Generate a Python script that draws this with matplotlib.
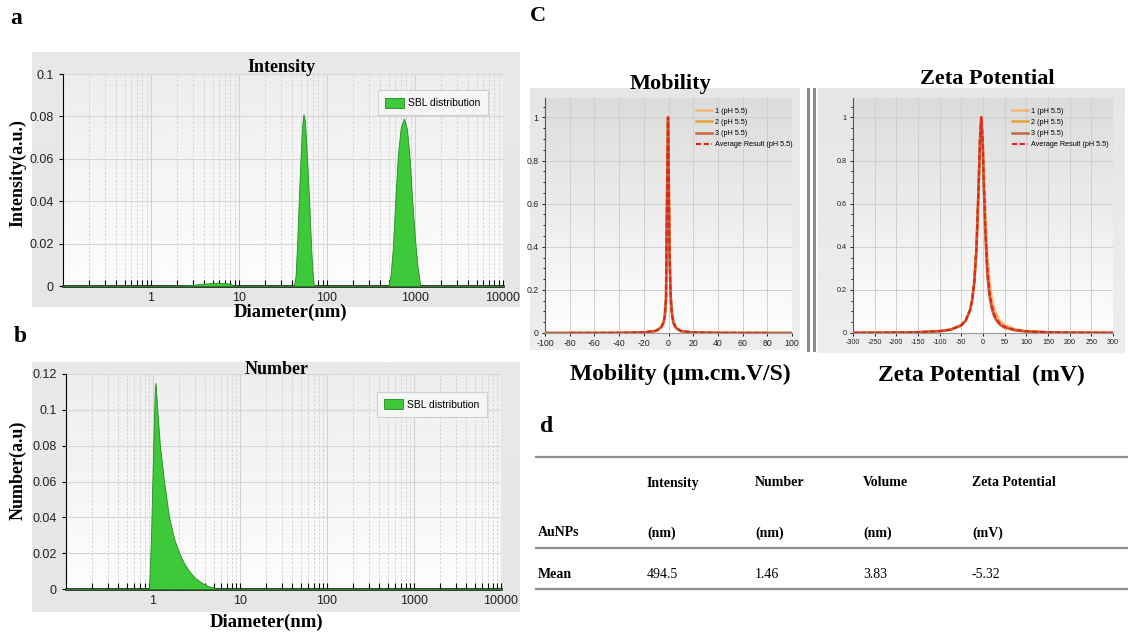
import numpy as np
import matplotlib
matplotlib.use("Agg")
import matplotlib.pyplot as plt
from matplotlib.ticker import LogLocator, NullFormatter, AutoMinorLocator

plt.rcParams['font.family'] = ['Liberation Sans', 'DejaVu Sans']
plt.rcParams['axes.unicode_minus'] = False
SERIF = 'Liberation Serif'

# ---- data ----
# a: intensity distribution
int_d = [0.1, 2.0, 2.9, 3.5, 4.2, 5.0, 5.8, 6.8, 8.0, 9.0, 20.0, 42, 44, 46, 48, 50, 52, 54, 56, 58, 60, 63, 66, 69, 71,
         300, 500, 530, 560, 600, 640, 690, 750, 810, 870, 930, 1000, 1070, 1150, 10000]
int_v = [0, 0, 0.0004, 0.0009, 0.0012, 0.0014, 0.0015, 0.0014, 0.0010, 0, 0, 0, 0.005, 0.022, 0.042, 0.060, 0.075, 0.081,
         0.078, 0.068, 0.056, 0.038, 0.018, 0.004, 0, 0, 0, 0.006, 0.018, 0.042, 0.062, 0.075, 0.079, 0.074, 0.060,
         0.040, 0.022, 0.009, 0, 0]
# b: number distribution
num_d = [0.1, 0.9, 0.95, 1.0, 1.05, 1.07, 1.12, 1.2, 1.34, 1.53, 1.75, 2.0, 2.3, 2.6, 3.0, 3.5, 4.2, 5.5, 10000]
num_v = [0, 0, 0.03, 0.075, 0.112, 0.115, 0.100, 0.080, 0.060, 0.040, 0.028, 0.020, 0.014, 0.010, 0.0065, 0.004,
         0.0018, 0, 0]
dec_ticks = [1, 10, 100, 1000, 10000]
dec_labels = ['1', '10', '100', '1000', '10000']

# c: mobility (um.cm/V.s)
mob_x = [-100, -80, -60, -40, -20, -10, -6, -4, -3, -2, -1.5, -1, -0.4, 0, 0.5, 1, 1.5, 2, 3, 4, 6, 10, 20, 40, 60, 80, 100]
mob_r1 = [0.0001, 0.0002, 0.0003, 0.0007, 0.003, 0.011, 0.028, 0.052, 0.085, 0.17, 0.46, 0.74, 1.0, 0.87, 0.57,
          0.35, 0.23, 0.155, 0.085, 0.052, 0.026, 0.010, 0.0026, 0.0007, 0.0003, 0.0002, 0.0001]
mob_r2 = [0.0001, 0.0002, 0.0003, 0.0006, 0.0026, 0.010, 0.026, 0.049, 0.080, 0.16, 0.45, 0.73, 1.0, 0.86, 0.55,
          0.34, 0.22, 0.148, 0.080, 0.049, 0.024, 0.009, 0.0024, 0.0006, 0.0003, 0.0002, 0.0001]
mob_r3 = [0.0001, 0.0001, 0.0003, 0.0006, 0.0025, 0.010, 0.025, 0.047, 0.078, 0.155, 0.44, 0.72, 1.0, 0.85, 0.54,
          0.33, 0.21, 0.145, 0.078, 0.047, 0.023, 0.009, 0.0023, 0.0006, 0.0003, 0.0001, 0.0001]
mob_avg_x = [-80, -60, -40, -20, -10, -6, -4, -3, -2, -1.5, -1, -0.4, 0, 0.5, 1, 1.5, 2, 3, 4, 6, 10, 20, 40, 60, 80]
mob_avg = [0.0002, 0.0003, 0.0006, 0.0026, 0.010, 0.026, 0.049, 0.080, 0.16, 0.45, 0.73, 1.0, 0.86, 0.55, 0.34, 0.22,
           0.148, 0.080, 0.049, 0.024, 0.009, 0.0024, 0.0006, 0.0003, 0.0002]

# c: zeta potential (mV)
zeta_x = [-300, -250, -200, -150, -100, -75, -50, -40, -30, -25, -20, -15, -10, -7, -4, -1, 2, 5, 10, 15, 20, 25, 30,
          40, 50, 75, 100, 150, 200, 250, 300]
zeta_r1 = [0.001, 0.0014, 0.0022, 0.004, 0.009, 0.016, 0.037, 0.059, 0.107, 0.155, 0.24, 0.40, 0.69, 0.90, 1.0, 0.92,
           0.76, 0.58, 0.36, 0.24, 0.165, 0.118, 0.088, 0.054, 0.036, 0.017, 0.009, 0.004, 0.0022, 0.0014, 0.001]
zeta_r2 = [0.0009, 0.0013, 0.0021, 0.0038, 0.0087, 0.0158, 0.037, 0.059, 0.107, 0.155, 0.24, 0.40, 0.69, 0.90, 1.0,
           0.90, 0.69, 0.50, 0.29, 0.18, 0.123, 0.088, 0.065, 0.040, 0.027, 0.0128, 0.0074, 0.0034, 0.0019, 0.0012,
           0.0009]
zeta_r3 = [0.0009, 0.0013, 0.002, 0.0036, 0.0083, 0.015, 0.035, 0.056, 0.103, 0.15, 0.235, 0.39, 0.68, 0.89, 1.0, 0.89,
           0.67, 0.48, 0.27, 0.17, 0.115, 0.082, 0.060, 0.037, 0.025, 0.012, 0.007, 0.0032, 0.0018, 0.0011, 0.0008]
zeta_avg = [0.0009, 0.0013, 0.0021, 0.0038, 0.0087, 0.0155, 0.036, 0.058, 0.106, 0.153, 0.24, 0.40, 0.69, 0.90, 1.0,
            0.90, 0.70, 0.51, 0.30, 0.19, 0.13, 0.093, 0.068, 0.042, 0.029, 0.0136, 0.0079, 0.0035, 0.002, 0.0012,
            0.0009]
run_labels = ['1 (pH 5.5)', '2 (pH 5.5)', '3 (pH 5.5)', 'Average Result (pH 5.5)']

# d: table
tbl_cols = ['Intensity', 'Number', 'Volume', 'Zeta Potential']
tbl_units = ['(nm)', '(nm)', '(nm)', '(mV)']
tbl_mean = [494.5, 1.46, 3.83, -5.32]

# ---- layout helpers (pixel coordinates, origin top-left) ----
W, H = 1128, 634
fig = plt.figure(figsize=(W / 100, H / 100), dpi=100)
fig.patch.set_facecolor('white')


def px_rect(l, t, r, b):
    return [l / W, 1 - b / H, (r - l) / W, (b - t) / H]


def gradient_box(l, t, r, b, c_top, c_bot, z=0):
    bx = fig.add_axes(px_rect(l, t, r, b), zorder=z)
    grad = np.linspace(c_top, c_bot, 100).reshape(-1, 1)
    bx.imshow(grad, cmap='gray', vmin=0, vmax=1, aspect='auto', extent=[0, 1, 0, 1], interpolation='bilinear')
    bx.set_axis_off()
    return bx


def ftext(x, y, s, **kw):
    fig.text(x / W, 1 - y / H, s, **kw)


GREEN = '#3ec93a'
GREEN_EDGE = '#1f8a1f'


def size_panel(rect, d, v, yticks, ylabels, title, title_xy, ylabel, ylabel_xy, xlabel_xy, leg_anchor):
    ax = fig.add_axes(px_rect(*rect), zorder=3)
    ax.set_facecolor('none')
    ax.set_xscale('log')
    ax.fill_between(d, v, color=GREEN, edgecolor=GREEN_EDGE, lw=0.6, label='SBL distribution', zorder=3)
    ax.set_xlim(0.1, 10000)
    ax.set_ylim(0, yticks[-1])
    ax.set_xticks(dec_ticks)
    ax.set_xticklabels(dec_labels)
    ax.xaxis.set_minor_locator(LogLocator(base=10, subs=range(2, 10), numticks=20))
    ax.xaxis.set_minor_formatter(NullFormatter())
    ax.set_yticks(yticks)
    ax.set_yticklabels(ylabels)
    ax.grid(which='major', axis='x', color='#d2d2d2', lw=0.8)
    ax.grid(which='minor', axis='x', color='#cfcfcf', lw=0.6, ls=(0, (3, 2)))
    ax.grid(which='major', axis='y', color='#d6d6d6', lw=0.8)
    ax.set_axisbelow(True)
    ax.tick_params(axis='x', which='both', direction='in', length=4, width=0.8, labelsize=9, pad=4,
                   labelcolor='#222222')
    ax.tick_params(axis='y', direction='out', length=3, width=0.8, labelsize=9, labelcolor='#222222')
    for s in ('top', 'right'):
        ax.spines[s].set_visible(False)
    ax.spines['bottom'].set_linewidth(1.8)
    ax.spines['left'].set_linewidth(0.8)
    leg = ax.legend(loc='upper right', bbox_to_anchor=leg_anchor, frameon=True, fancybox=False,
                    edgecolor='#d0d0d0', facecolor='#f5f5f5', fontsize=7.5, handlelength=1.8,
                    handleheight=1.1, borderpad=0.7, handletextpad=0.4, framealpha=1)
    leg.get_frame().set_linewidth(0.8)
    ftext(*title_xy, title, family=SERIF, weight='bold', fontsize=13, ha='center', va='center')
    ftext(*ylabel_xy, ylabel, family=SERIF, weight='bold', fontsize=13, ha='center', va='center', rotation=90)
    ftext(*xlabel_xy, 'Diameter(nm)', family=SERIF, weight='bold', fontsize=13.5, ha='center', va='center')
    return ax


# ---- panel a ----
gradient_box(32, 52, 520, 307, 0.91, 0.90, z=0)
gradient_box(63, 74, 503, 286, 0.93, 0.99, z=1)
ftext(10, 18, 'a', family=SERIF, weight='bold', fontsize=17, ha='left', va='center')
size_panel((63, 74, 503, 286), int_d, int_v, [0, 0.02, 0.04, 0.06, 0.08, 0.1],
           ['0', '0.02', '0.04', '0.06', '0.08', '0.1'], 'Intensity', (281, 67),
           'Intensity(a.u.)', (18, 173), (291, 312), (0.977, 0.948))

# ---- panel b ----
gradient_box(32, 362, 520, 612, 0.91, 0.90, z=0)
gradient_box(66, 374, 501, 589, 0.93, 0.99, z=1)
ftext(14, 336, 'b', family=SERIF, weight='bold', fontsize=17, ha='left', va='center')
size_panel((66, 374, 501, 589), num_d, num_v, [0, 0.02, 0.04, 0.06, 0.08, 0.1, 0.12],
           ['0', '0.02', '0.04', '0.06', '0.08', '0.1', '0.12'], 'Number', (277, 369),
           'Number(a.u)', (18, 470), (267, 622), (0.979, 0.94))

# ---- panel C ----
ftext(530, 16, 'C', family=SERIF, weight='bold', fontsize=16, ha='left', va='center')
RUN_COLORS = ['#f7b473', '#e3a23a', '#c2653c']
AVG_COLOR = '#e2231c'


def zeta_panel(rect, x, runs, avg_x, avg, lim, step, title, title_xy, xlabel, xlabel_xy, fs):
    ax = fig.add_axes(px_rect(*rect), zorder=3)
    ax.set_facecolor('none')
    for r, c, lab in zip(runs, RUN_COLORS, run_labels[:3]):
        ax.plot(x, r, color=c, lw=1.8, label=lab, zorder=3)
    ax.plot(avg_x, avg, color=AVG_COLOR, lw=1.5, ls=(0, (2.5, 1.2)), label=run_labels[3], zorder=4)
    ax.set_xlim(-lim, lim)
    ax.set_ylim(0, 1.09)
    ax.set_xticks(np.arange(-lim, lim + 1, step))
    ax.set_yticks([0, 0.2, 0.4, 0.6, 0.8, 1.0])
    ax.set_yticklabels(['0', '0.2', '0.4', '0.6', '0.8', '1'])
    ax.yaxis.set_minor_locator(AutoMinorLocator(4))
    ax.grid(which='major', color='#cfcfcf', lw=0.7)
    ax.set_axisbelow(True)
    ax.tick_params(which='both', labelsize=fs, length=2.5, width=0.6, pad=2, labelcolor='#222222')
    ax.tick_params(which='minor', length=1.5)
    for s in ('top', 'right'):
        ax.spines[s].set_visible(False)
    ax.spines['left'].set_color('#555555')
    ax.spines['bottom'].set_color('#999999')
    ax.legend(loc='upper left', bbox_to_anchor=(0.6, 0.97), frameon=False, fontsize=5.2, handlelength=2.2,
              labelspacing=0.55, borderaxespad=0, handletextpad=0.4)
    ftext(*title_xy, title, family=SERIF, weight='bold', fontsize=16, ha='center', va='center')
    ftext(*xlabel_xy, xlabel, family=SERIF, weight='bold', fontsize=17, ha='center', va='center')
    return ax


gradient_box(530, 88, 800, 350, 0.90, 0.93, z=0)
gradient_box(545, 98, 792, 333, 0.86, 0.995, z=1)
zeta_panel((545, 98, 792, 333), mob_x, [mob_r1, mob_r2, mob_r3], mob_avg_x, mob_avg, 100, 20,
           'Mobility', (670, 84), 'Mobility (µm.cm.V/S)', (680, 374), 6.3)

gradient_box(818, 88, 1125, 353, 0.90, 0.93, z=0)
gradient_box(853, 98, 1113, 333, 0.86, 0.995, z=1)
zeta_panel((853, 98, 1113, 333), zeta_x, [zeta_r1, zeta_r2, zeta_r3], zeta_x, zeta_avg, 300, 50,
           'Zeta Potential', (987, 79), 'Zeta Potential  (mV)', (981, 375), 5.2)

# separator between the two spectra
sep = fig.add_axes(px_rect(800, 88, 818, 352), zorder=2)
sep.set_xlim(800, 818)
sep.set_ylim(352, 88)
sep.set_axis_off()
for xs in (808, 814):
    sep.plot([xs, xs], [88, 352], color='#8c8c8c', lw=2.2)

# ---- panel d: table ----
ax_t = fig.add_axes(px_rect(530, 400, 1128, 634), zorder=2)
ax_t.set_xlim(530, 1128)
ax_t.set_ylim(634, 400)
ax_t.set_axis_off()
ax_t.text(540, 426, 'd', family=SERIF, weight='bold', fontsize=17, ha='left', va='center')
for yl in (457, 548, 589):
    ax_t.plot([535, 1128], [yl, yl], color='#8f8f8f', lw=1.6, solid_capstyle='butt')
col_x = [647, 755, 863, 972]
for cx, name, unit, val in zip(col_x, tbl_cols, tbl_units, tbl_mean):
    ax_t.text(cx, 483, name, family=SERIF, weight='bold', fontsize=10, ha='left', va='center')
    ax_t.text(cx, 533, unit, family=SERIF, weight='bold', fontsize=10, ha='left', va='center')
    ax_t.text(cx, 574, str(val), family=SERIF, fontsize=10, ha='left', va='center')
ax_t.text(538, 533, 'AuNPs', family=SERIF, weight='bold', fontsize=10, ha='left', va='center')
ax_t.text(538, 574, 'Mean', family=SERIF, weight='bold', fontsize=10, ha='left', va='center')

fig.savefig('out.png', dpi=100)
